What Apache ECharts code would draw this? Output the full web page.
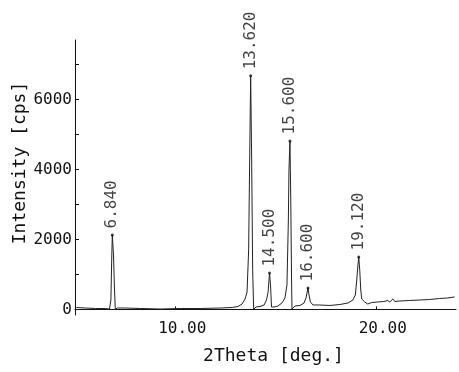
<!DOCTYPE html>
<html>
<head>
<meta charset="utf-8">
<script src="https://cdn.jsdelivr.net/npm/echarts@6/dist/echarts.min.js"></script>
<style>
  html, body { margin: 0; padding: 0; background: #fff; }
  #chart { width: 459px; height: 372px; }
</style>
</head>
<body>
<div id="chart"></div>
<script>
  // XRD trace
  const twoTheta = [
    5.07, 5.52, 6.02, 6.52, 6.72, 6.79, 6.83, 6.86, 6.92, 6.97, 7.01, 7.11, 7.51, 8.26, 9.25,
    10.25, 11.24, 12.24, 12.84, 13.13, 13.33, 13.48, 13.58, 13.66, 13.71, 13.76, 13.81, 13.86, 13.91,
    14.03, 14.23, 14.43, 14.55, 14.63, 14.70, 14.75, 14.80, 14.93, 15.12, 15.32, 15.47, 15.57,
    15.64, 15.67, 15.72, 15.76, 15.80, 15.82, 15.97, 16.22, 16.42, 16.52, 16.62, 16.67, 16.74,
    16.87, 17.21, 17.71, 18.21, 18.61, 18.86, 18.98, 19.05, 19.11, 19.15, 19.20, 19.25, 19.30,
    19.45, 19.60, 19.80, 20.10, 20.40, 20.60, 20.70, 20.85, 20.95, 21.19, 21.69, 22.19, 22.69,
    23.18, 23.58, 23.93
  ];
  const intensity = [
    54, 40, 26, 26, 11, 270, 1410, 2128, 1556, 555, 0, 40, 40, 26, 11,
    26, 26, 40, 54, 83, 154, 297, 498, 1700, 4270, 6675, 4270, 1130, 0,
    69, 83, 126, 269, 498, 1040, 700, 69, 69, 97, 183, 326, 698,
    2557, 3987, 4815, 3130, 841, 11, 97, 112, 183, 326, 612, 412, 212,
    126, 126, 112, 140, 183, 269, 412, 841, 1270, 1500, 1127, 555, 297,
    212, 154, 197, 212, 226, 254, 212, 297, 226, 240, 254, 269, 283,
    312, 326, 355
  ];

  // marked peaks
  const peakTheta = [6.86, 13.76, 14.70, 15.72, 16.62, 19.15];
  const peakIntensity = [2128, 6675, 1040, 4815, 612, 1500];
  const peakLabels = ['6.840', '13.620', '14.500', '15.600', '16.600', '19.120'];

  const xTicks = [10, 20];
  const yTicks = [0, 2000, 4000, 6000];
  const yMinorTicks = [0, 1000, 2000, 3000, 4000, 5000, 6000, 7000];

  const mono = 'DejaVu Sans Mono';
  const ink = '#111';

  const chart = echarts.init(document.getElementById('chart'));

  chart.setOption({
    animation: false,
    backgroundColor: '#fff',
    grid: { left: 75, right: 3, top: 40, bottom: 57 },
    xAxis: {
      type: 'value',
      min: 5,
      max: 24,
      name: '2Theta [deg.]',
      nameLocation: 'middle',
      nameGap: 32,
      nameTextStyle: { fontFamily: mono, fontSize: 18, color: ink, padding: [0, 0, 0, 16] },
      axisLine: { lineStyle: { color: ink, width: 1 } },
      axisTick: { inside: true, length: 3, customValues: xTicks, lineStyle: { color: ink } },
      axisLabel: {
        customValues: xTicks,
        formatter: (v) => v.toFixed(2),
        fontFamily: mono,
        fontSize: 16,
        color: ink,
        margin: 6,
        padding: [0, 0, 0, 14],
      },
      splitLine: { show: false },
    },
    yAxis: {
      type: 'value',
      min: -160,
      max: 7700,
      axisLine: { show: true, lineStyle: { color: ink, width: 1 } },
      axisTick: { show: true, inside: true, length: 4, customValues: yMinorTicks, lineStyle: { color: ink } },
      axisLabel: {
        customValues: yTicks,
        formatter: (v) => String(v),
        fontFamily: mono,
        fontSize: 16,
        color: ink,
        margin: 3,
      },
      splitLine: { show: false },
    },
    graphic: [
      {
        type: 'text',
        x: 20,
        y: 163,
        rotation: Math.PI / 2,
        style: {
          text: 'Intensity [cps]',
          font: '18px ' + mono,
          fill: ink,
          align: 'center',
          verticalAlign: 'middle',
        },
      },
    ],
    series: [
      {
        type: 'line',
        data: twoTheta.map((t, i) => [t, intensity[i]]),
        symbol: 'none',
        lineStyle: { color: '#222', width: 1 },
        z: 2,
      },
      {
        type: 'scatter',
        data: peakTheta.map((t, i) => [t, peakIntensity[i]]),
        symbolSize: 3,
        itemStyle: { color: ink },
        label: {
          show: true,
          position: 'top',
          distance: 5,
          rotate: 90,
          align: 'left',
          verticalAlign: 'middle',
          fontFamily: mono,
          fontSize: 16,
          color: ink,
          formatter: (p) => peakLabels[p.dataIndex],
        },
        z: 3,
      },
    ],
  });
</script>
</body>
</html>
